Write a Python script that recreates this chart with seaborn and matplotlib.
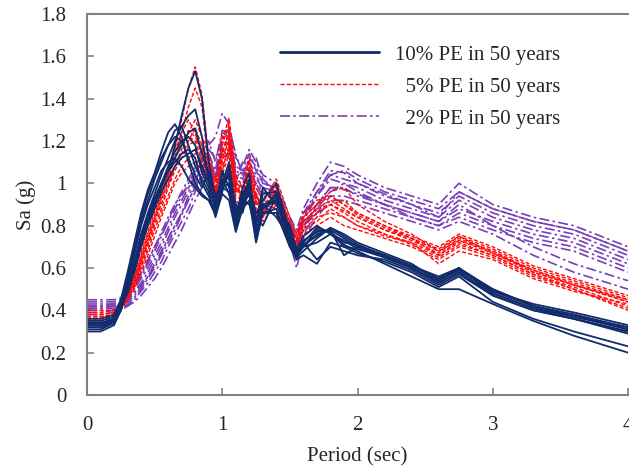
import matplotlib
matplotlib.use("Agg")
import matplotlib.pyplot as plt
from matplotlib.lines import Line2D
import numpy as np
import pandas as pd
import seaborn as sns

# Spectral periods (sec)
period = [0, 0.1, 0.2, 0.25, 0.3, 0.35, 0.4, 0.45, 0.5, 0.55, 0.6, 0.65, 0.7, 0.75,
          0.8, 0.85, 0.9, 0.95, 1.0, 1.05, 1.1, 1.15, 1.2, 1.25, 1.3, 1.4, 1.5, 1.55,
          1.6, 1.7, 1.8, 1.9, 2.0, 2.2, 2.4, 2.6, 2.75, 3.0, 3.3, 3.6, 4.0]

# 10% probability of exceedance in 50 years
sa_10 = [
    [0.33, 0.33, 0.36, 0.42, 0.50, 0.60, 0.72, 0.82, 0.90, 0.98, 1.06, 1.18, 1.32, 1.45, 1.53, 1.40, 1.10, 0.92, 1.02, 0.95, 0.82, 0.92, 0.90, 0.78, 0.86, 0.88, 0.70, 0.66, 0.70, 0.76, 0.78, 0.74, 0.70, 0.66, 0.61, 0.55, 0.59, 0.49, 0.42, 0.37, 0.31],
    [0.31, 0.31, 0.34, 0.40, 0.52, 0.63, 0.76, 0.86, 0.95, 1.04, 1.12, 1.20, 1.27, 1.32, 1.35, 1.22, 1.02, 0.88, 0.98, 1.00, 0.80, 0.90, 0.96, 0.75, 0.90, 0.92, 0.72, 0.65, 0.68, 0.74, 0.79, 0.76, 0.72, 0.67, 0.62, 0.54, 0.60, 0.48, 0.41, 0.36, 0.30],
    [0.36, 0.36, 0.38, 0.45, 0.58, 0.72, 0.86, 0.97, 1.05, 1.15, 1.24, 1.28, 1.22, 1.10, 1.00, 0.95, 0.92, 0.86, 1.00, 1.05, 0.78, 0.95, 1.00, 0.73, 0.88, 0.95, 0.74, 0.66, 0.72, 0.64, 0.70, 0.68, 0.66, 0.64, 0.59, 0.52, 0.57, 0.47, 0.40, 0.36, 0.29],
    [0.34, 0.34, 0.36, 0.43, 0.55, 0.68, 0.82, 0.92, 1.02, 1.10, 1.18, 1.25, 1.27, 1.18, 1.08, 1.02, 0.96, 0.84, 0.96, 1.08, 0.82, 0.98, 1.05, 0.76, 0.92, 1.00, 0.76, 0.67, 0.70, 0.78, 0.77, 0.72, 0.71, 0.65, 0.60, 0.53, 0.58, 0.48, 0.41, 0.37, 0.32],
    [0.32, 0.32, 0.35, 0.41, 0.50, 0.62, 0.74, 0.85, 0.93, 1.00, 1.08, 1.15, 1.20, 1.22, 1.18, 1.05, 0.98, 0.88, 1.04, 1.02, 0.84, 0.93, 1.02, 0.80, 0.95, 0.96, 0.78, 0.68, 0.73, 0.77, 0.78, 0.66, 0.70, 0.66, 0.60, 0.54, 0.59, 0.50, 0.42, 0.38, 0.31],
    [0.35, 0.35, 0.37, 0.42, 0.48, 0.58, 0.70, 0.80, 0.88, 0.96, 1.02, 1.08, 1.12, 1.14, 1.16, 1.08, 1.00, 0.90, 1.06, 0.98, 0.86, 0.96, 0.94, 0.82, 0.98, 0.90, 0.80, 0.69, 0.75, 0.80, 0.76, 0.73, 0.69, 0.66, 0.61, 0.56, 0.60, 0.49, 0.43, 0.39, 0.33],
    [0.30, 0.30, 0.33, 0.40, 0.53, 0.66, 0.80, 0.90, 0.98, 1.06, 1.10, 1.12, 1.08, 1.02, 0.98, 0.94, 0.92, 0.85, 0.95, 0.92, 0.77, 0.88, 0.92, 0.72, 0.86, 0.86, 0.70, 0.64, 0.66, 0.62, 0.72, 0.70, 0.67, 0.63, 0.58, 0.51, 0.56, 0.44, 0.36, 0.30, 0.23],
    [0.32, 0.32, 0.34, 0.40, 0.50, 0.62, 0.75, 0.84, 0.92, 1.00, 1.06, 1.10, 1.14, 1.16, 1.12, 1.00, 0.94, 0.86, 0.98, 0.96, 0.80, 0.90, 0.95, 0.76, 0.88, 0.92, 0.72, 0.66, 0.70, 0.72, 0.76, 0.71, 0.68, 0.62, 0.56, 0.50, 0.50, 0.43, 0.35, 0.28, 0.20],
    [0.33, 0.33, 0.35, 0.44, 0.56, 0.70, 0.84, 0.95, 1.04, 1.12, 1.18, 1.22, 1.20, 1.12, 1.04, 0.98, 1.06, 0.94, 1.00, 1.10, 0.88, 0.90, 1.00, 0.84, 0.80, 0.94, 0.76, 0.67, 0.72, 0.79, 0.77, 0.70, 0.69, 0.65, 0.60, 0.53, 0.58, 0.47, 0.40, 0.36, 0.30],
    [0.34, 0.34, 0.36, 0.41, 0.49, 0.59, 0.71, 0.82, 0.91, 0.99, 1.06, 1.12, 1.18, 1.24, 1.26, 1.14, 1.04, 0.94, 0.98, 1.04, 0.90, 0.86, 0.98, 0.86, 0.90, 0.84, 0.74, 0.68, 0.71, 0.75, 0.79, 0.75, 0.71, 0.66, 0.61, 0.55, 0.60, 0.50, 0.42, 0.38, 0.32],
]

# 5% probability of exceedance in 50 years
sa_5 = [
    [0.37, 0.37, 0.38, 0.42, 0.47, 0.54, 0.64, 0.74, 0.84, 0.94, 1.04, 1.16, 1.30, 1.45, 1.55, 1.42, 1.12, 0.95, 1.12, 1.20, 0.94, 0.92, 1.02, 0.88, 0.86, 0.95, 0.76, 0.72, 0.80, 0.86, 0.90, 0.86, 0.82, 0.76, 0.72, 0.66, 0.72, 0.66, 0.57, 0.51, 0.42],
    [0.35, 0.35, 0.37, 0.41, 0.46, 0.52, 0.62, 0.72, 0.82, 0.92, 1.02, 1.12, 1.24, 1.36, 1.45, 1.36, 1.08, 0.96, 1.15, 1.25, 0.98, 0.95, 1.06, 0.92, 0.84, 0.98, 0.78, 0.73, 0.82, 0.88, 0.92, 0.88, 0.84, 0.78, 0.73, 0.67, 0.74, 0.68, 0.58, 0.52, 0.44],
    [0.38, 0.38, 0.39, 0.43, 0.49, 0.58, 0.68, 0.80, 0.90, 0.98, 1.06, 1.15, 1.24, 1.30, 1.24, 1.12, 1.02, 0.92, 1.18, 1.28, 1.00, 0.90, 1.08, 0.95, 0.88, 1.00, 0.80, 0.74, 0.84, 0.90, 0.96, 0.98, 0.90, 0.82, 0.76, 0.68, 0.75, 0.69, 0.60, 0.54, 0.46],
    [0.36, 0.36, 0.38, 0.42, 0.48, 0.56, 0.66, 0.77, 0.88, 0.96, 1.04, 1.12, 1.20, 1.25, 1.22, 1.16, 1.06, 0.94, 1.10, 1.22, 0.96, 0.96, 1.10, 0.90, 0.90, 0.94, 0.74, 0.72, 0.78, 0.84, 0.86, 0.84, 0.80, 0.76, 0.71, 0.65, 0.71, 0.66, 0.57, 0.50, 0.41],
    [0.39, 0.39, 0.40, 0.44, 0.47, 0.52, 0.60, 0.70, 0.80, 0.88, 0.98, 1.06, 1.12, 1.18, 1.20, 1.18, 1.10, 0.98, 1.20, 1.31, 1.04, 0.98, 1.12, 0.98, 0.92, 1.02, 0.84, 0.76, 0.86, 0.92, 0.94, 0.90, 0.86, 0.80, 0.75, 0.70, 0.76, 0.70, 0.61, 0.55, 0.47],
    [0.34, 0.34, 0.36, 0.40, 0.45, 0.51, 0.60, 0.68, 0.78, 0.86, 0.94, 1.02, 1.08, 1.12, 1.14, 1.15, 1.08, 0.96, 1.06, 1.18, 0.92, 0.88, 1.00, 0.86, 0.82, 0.90, 0.72, 0.70, 0.76, 0.80, 0.84, 0.80, 0.78, 0.74, 0.70, 0.64, 0.70, 0.65, 0.56, 0.50, 0.40],
    [0.37, 0.37, 0.38, 0.41, 0.45, 0.50, 0.58, 0.66, 0.75, 0.84, 0.92, 1.00, 1.05, 1.08, 1.10, 1.06, 1.02, 0.92, 1.04, 1.14, 0.90, 0.90, 0.98, 0.84, 0.84, 0.92, 0.74, 0.71, 0.78, 0.82, 0.88, 0.84, 0.80, 0.75, 0.72, 0.62, 0.68, 0.64, 0.55, 0.49, 0.43],
    [0.40, 0.40, 0.40, 0.43, 0.48, 0.55, 0.65, 0.76, 0.86, 0.95, 1.04, 1.12, 1.18, 1.22, 1.20, 1.10, 1.04, 0.95, 1.14, 1.24, 0.98, 0.94, 1.04, 0.94, 0.86, 0.96, 0.80, 0.74, 0.82, 0.88, 0.90, 0.87, 0.84, 0.78, 0.74, 0.69, 0.75, 0.67, 0.59, 0.52, 0.45],
    [0.36, 0.36, 0.37, 0.41, 0.46, 0.53, 0.62, 0.72, 0.82, 0.90, 0.99, 1.08, 1.16, 1.24, 1.30, 1.22, 1.14, 1.02, 1.08, 1.16, 1.02, 0.92, 0.98, 0.96, 0.84, 0.98, 0.78, 0.75, 0.80, 0.86, 0.90, 0.92, 0.86, 0.80, 0.74, 0.66, 0.73, 0.68, 0.59, 0.53, 0.45],
    [0.38, 0.38, 0.39, 0.42, 0.47, 0.54, 0.63, 0.73, 0.84, 0.93, 1.00, 1.08, 1.14, 1.20, 1.26, 1.18, 1.00, 0.98, 1.24, 1.22, 0.96, 1.00, 1.06, 0.90, 0.92, 0.96, 0.82, 0.73, 0.84, 0.90, 0.94, 0.90, 0.85, 0.79, 0.74, 0.68, 0.73, 0.67, 0.58, 0.52, 0.44],
]

# 2% probability of exceedance in 50 years
sa_2 = [
    [0.45, 0.45, 0.45, 0.46, 0.49, 0.53, 0.58, 0.64, 0.70, 0.76, 0.82, 0.88, 0.94, 1.00, 1.06, 1.12, 1.18, 1.22, 1.33, 1.28, 1.12, 1.08, 1.16, 1.10, 1.04, 1.00, 0.84, 0.78, 0.88, 1.00, 1.10, 1.08, 1.04, 0.98, 0.94, 0.90, 1.00, 0.90, 0.84, 0.80, 0.70],
    [0.43, 0.43, 0.43, 0.44, 0.47, 0.51, 0.56, 0.62, 0.68, 0.75, 0.82, 0.90, 0.96, 1.02, 1.08, 1.14, 1.20, 1.10, 1.25, 1.24, 1.06, 1.04, 1.12, 1.08, 1.00, 0.98, 0.82, 0.76, 0.86, 0.96, 1.06, 1.05, 1.00, 0.94, 0.90, 0.86, 0.94, 0.86, 0.80, 0.76, 0.66],
    [0.41, 0.41, 0.42, 0.43, 0.46, 0.49, 0.53, 0.58, 0.64, 0.70, 0.77, 0.84, 0.90, 0.96, 1.02, 1.08, 1.12, 1.04, 1.22, 1.18, 1.00, 1.10, 1.08, 1.02, 0.98, 0.96, 0.78, 0.70, 0.82, 0.94, 1.02, 1.00, 0.98, 0.92, 0.88, 0.84, 0.92, 0.84, 0.78, 0.74, 0.64],
    [0.39, 0.39, 0.40, 0.41, 0.43, 0.46, 0.50, 0.55, 0.60, 0.66, 0.72, 0.78, 0.85, 0.92, 0.98, 1.04, 1.10, 1.02, 1.18, 1.20, 1.04, 1.02, 1.10, 1.04, 0.96, 0.94, 0.76, 0.68, 0.80, 0.90, 0.98, 0.97, 0.95, 0.90, 0.86, 0.82, 0.88, 0.82, 0.76, 0.72, 0.62],
    [0.44, 0.44, 0.44, 0.45, 0.48, 0.52, 0.57, 0.63, 0.70, 0.77, 0.84, 0.90, 0.95, 0.98, 1.02, 1.06, 1.10, 1.04, 1.15, 1.16, 1.02, 1.06, 1.04, 1.00, 0.94, 0.92, 0.80, 0.72, 0.78, 0.88, 0.96, 1.00, 0.96, 0.90, 0.84, 0.80, 0.84, 0.78, 0.72, 0.68, 0.58],
    [0.38, 0.38, 0.39, 0.40, 0.42, 0.45, 0.49, 0.53, 0.58, 0.63, 0.70, 0.76, 0.82, 0.88, 0.96, 1.02, 1.08, 1.00, 1.12, 1.14, 1.00, 0.98, 1.04, 0.98, 0.92, 0.90, 0.74, 0.64, 0.76, 0.86, 0.94, 0.94, 0.92, 0.88, 0.84, 0.80, 0.86, 0.80, 0.74, 0.70, 0.60],
    [0.42, 0.42, 0.42, 0.43, 0.45, 0.48, 0.52, 0.56, 0.62, 0.68, 0.74, 0.80, 0.86, 0.94, 1.00, 1.06, 1.14, 1.06, 1.24, 1.22, 1.08, 1.06, 1.14, 1.06, 1.00, 0.98, 0.80, 0.74, 0.84, 0.96, 1.04, 1.02, 1.00, 0.95, 0.90, 0.84, 0.96, 0.88, 0.82, 0.78, 0.68],
    [0.40, 0.40, 0.40, 0.41, 0.42, 0.44, 0.47, 0.51, 0.55, 0.60, 0.66, 0.72, 0.78, 0.85, 0.92, 0.98, 1.04, 0.96, 1.08, 1.10, 0.96, 0.96, 1.00, 0.94, 0.90, 0.88, 0.72, 0.60, 0.74, 0.84, 0.92, 0.92, 0.90, 0.86, 0.82, 0.78, 0.82, 0.76, 0.66, 0.58, 0.50],
    [0.42, 0.42, 0.43, 0.44, 0.46, 0.50, 0.55, 0.60, 0.66, 0.72, 0.79, 0.86, 0.92, 0.98, 1.04, 1.10, 1.16, 1.12, 1.20, 1.26, 1.14, 1.04, 1.10, 1.12, 1.02, 0.96, 0.82, 0.76, 0.84, 0.94, 1.04, 1.06, 1.02, 0.96, 0.92, 0.88, 0.96, 0.88, 0.82, 0.78, 0.68],
    [0.41, 0.41, 0.41, 0.42, 0.44, 0.47, 0.51, 0.56, 0.61, 0.67, 0.74, 0.80, 0.86, 0.92, 0.98, 1.04, 1.08, 1.02, 1.16, 1.12, 1.02, 1.00, 1.06, 1.00, 0.96, 0.94, 0.78, 0.70, 0.78, 0.90, 0.98, 0.98, 0.94, 0.90, 0.86, 0.82, 0.90, 0.80, 0.70, 0.62, 0.54],
]

labels = ["10% PE in 50 years", "  5% PE in 50 years", "  2% PE in 50 years"]

groups = {
    labels[0]: sa_10,
    labels[1]: sa_5,
    labels[2]: sa_2,
}

rows = []
for name, curves in groups.items():
    for k, curve in enumerate(curves):
        for t, sa in zip(period, curve):
            rows.append({"group": name, "record": k, "T": t, "Sa": sa})
df = pd.DataFrame(rows)

styles = {
    labels[0]: dict(color="#112b6b", linewidth=1.3, linestyle="-"),
    labels[1]: dict(color="#ff0a0a", linewidth=1.0, linestyle=(0, (3, 1.5))),
    labels[2]: dict(color="#7a3db6", linewidth=1.2, linestyle=(0, (6, 2, 1.5, 2))),
}

sns.set_style("white")
plt.rcParams["font.family"] = ["Liberation Serif", "DejaVu Serif"]

fig = plt.figure(figsize=(6.29, 4.68), dpi=100)
ax = fig.add_axes([87 / 629, 1 - 395 / 468, 541 / 629, 381 / 468])

# draw in reverse so the 10% curves sit on top
for name in reversed(labels):
    sub = df[df["group"] == name]
    sns.lineplot(data=sub, x="T", y="Sa", units="record", estimator=None,
                 ax=ax, legend=False, **styles[name])

ax.set_xlim(0, 4)
ax.set_ylim(0, 1.8)
ax.set_xticks([0, 1, 2, 3, 4])
ax.set_xticklabels(["0", "1", "2", "3", "4"])
ax.set_yticks(np.arange(0, 1.81, 0.2))
ax.set_yticklabels(["0", "0.2", "0.4", "0.6", "0.8", "1", "1.2", "1.4", "1.6", "1.8"])
ax.tick_params(direction="in", length=5, width=1.2, color="#808080",
               labelsize=15, left=True, bottom=True)
ax.tick_params(axis="y", pad=15)
ax.tick_params(axis="x", pad=15)

for side in ["left", "bottom", "top"]:
    ax.spines[side].set_color("#808080")
    ax.spines[side].set_linewidth(1.5)
ax.spines["right"].set_visible(False)

ax.set_xlabel("Period (sec)", fontsize=15, labelpad=9)
ax.set_ylabel("Sa (g)", fontsize=15, labelpad=3)

handles = [
    Line2D([], [], color="#112b6b", linewidth=2.0, linestyle="-"),
    Line2D([], [], color="#ff0a0a", linewidth=1.0, linestyle=(0, (3, 1.5))),
    Line2D([], [], color="#7a3db6", linewidth=1.2, linestyle=(0, (6, 2, 1.5, 2))),
]
ax.legend(handles, labels, loc="upper right", bbox_to_anchor=(0.91, 0.968),
          frameon=False, fontsize=15, handlelength=4.75, handletextpad=0.8,
          labelspacing=0.6)

fig.savefig("out.png", dpi=100)
